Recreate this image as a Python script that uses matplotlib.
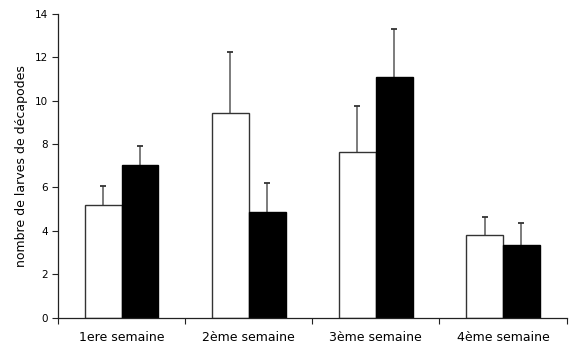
import numpy as np
import matplotlib
matplotlib.use("agg")
import matplotlib.pyplot as plt

# weekly larval counts: two treatments (open / filled bars)
semaines = ['1ere semaine', '2ème semaine', '3ème semaine', '4ème semaine']
blanc = [5.18, 9.42, 7.63, 3.81]
blanc_err = [0.89, 2.81, 2.11, 0.84]
noir = [7.03, 4.87, 11.09, 3.36]
noir_err = [0.88, 1.32, 2.23, 1.01]

plt.rcParams['font.family'] = ['DejaVu Sans']

fig = plt.figure(figsize=(5.74, 3.52), dpi=100)
ax = fig.add_axes([0.101, 0.098, 0.886, 0.862])

x = np.arange(len(semaines))
w = 0.29
edge = '#333333'


def upper_err(xs, vals, errs):
    # one-sided error bars: stem from bar top plus a small cap
    tops = np.array(vals) + np.array(errs)
    ax.vlines(xs, vals, tops, color='#666666', linewidth=1.2, zorder=1)
    ax.plot(xs, tops, linestyle='none', marker='_', markersize=4,
            markeredgewidth=1.3, color='#333333', zorder=1)


upper_err(x - w / 2, blanc, blanc_err)
upper_err(x + w / 2, noir, noir_err)
ax.bar(x - w / 2, blanc, w, color='white', edgecolor=edge, linewidth=1.0, zorder=2)
ax.bar(x + w / 2, noir, w, color='black', edgecolor='black', linewidth=1.0, zorder=2)

ax.set_xlim(-0.5, len(semaines) - 0.5)
ax.set_ylim(0, 14)
ax.set_yticks(range(0, 15, 2))
ax.set_xticks(np.arange(-0.5, len(semaines), 1.0))
ax.set_xticklabels([])
ax.set_xticks(x, minor=True)
ax.set_xticklabels(semaines, minor=True)
ax.tick_params(axis='x', which='minor', length=0, pad=9.5, labelsize=9)
ax.tick_params(axis='x', which='major', length=4, width=0.8, color='#222222')
ax.tick_params(axis='y', length=4, width=0.8, color='#222222', labelsize=7.5, pad=3)

for s in ['top', 'right']:
    ax.spines[s].set_visible(False)
for s in ['left', 'bottom']:
    ax.spines[s].set_color('#222222')
    ax.spines[s].set_linewidth(0.9)
    ax.spines[s].set_zorder(3)

ax.set_ylabel('nombre de larves de décapodes', fontsize=9, labelpad=5)

fig.savefig('out.png', dpi=100)
